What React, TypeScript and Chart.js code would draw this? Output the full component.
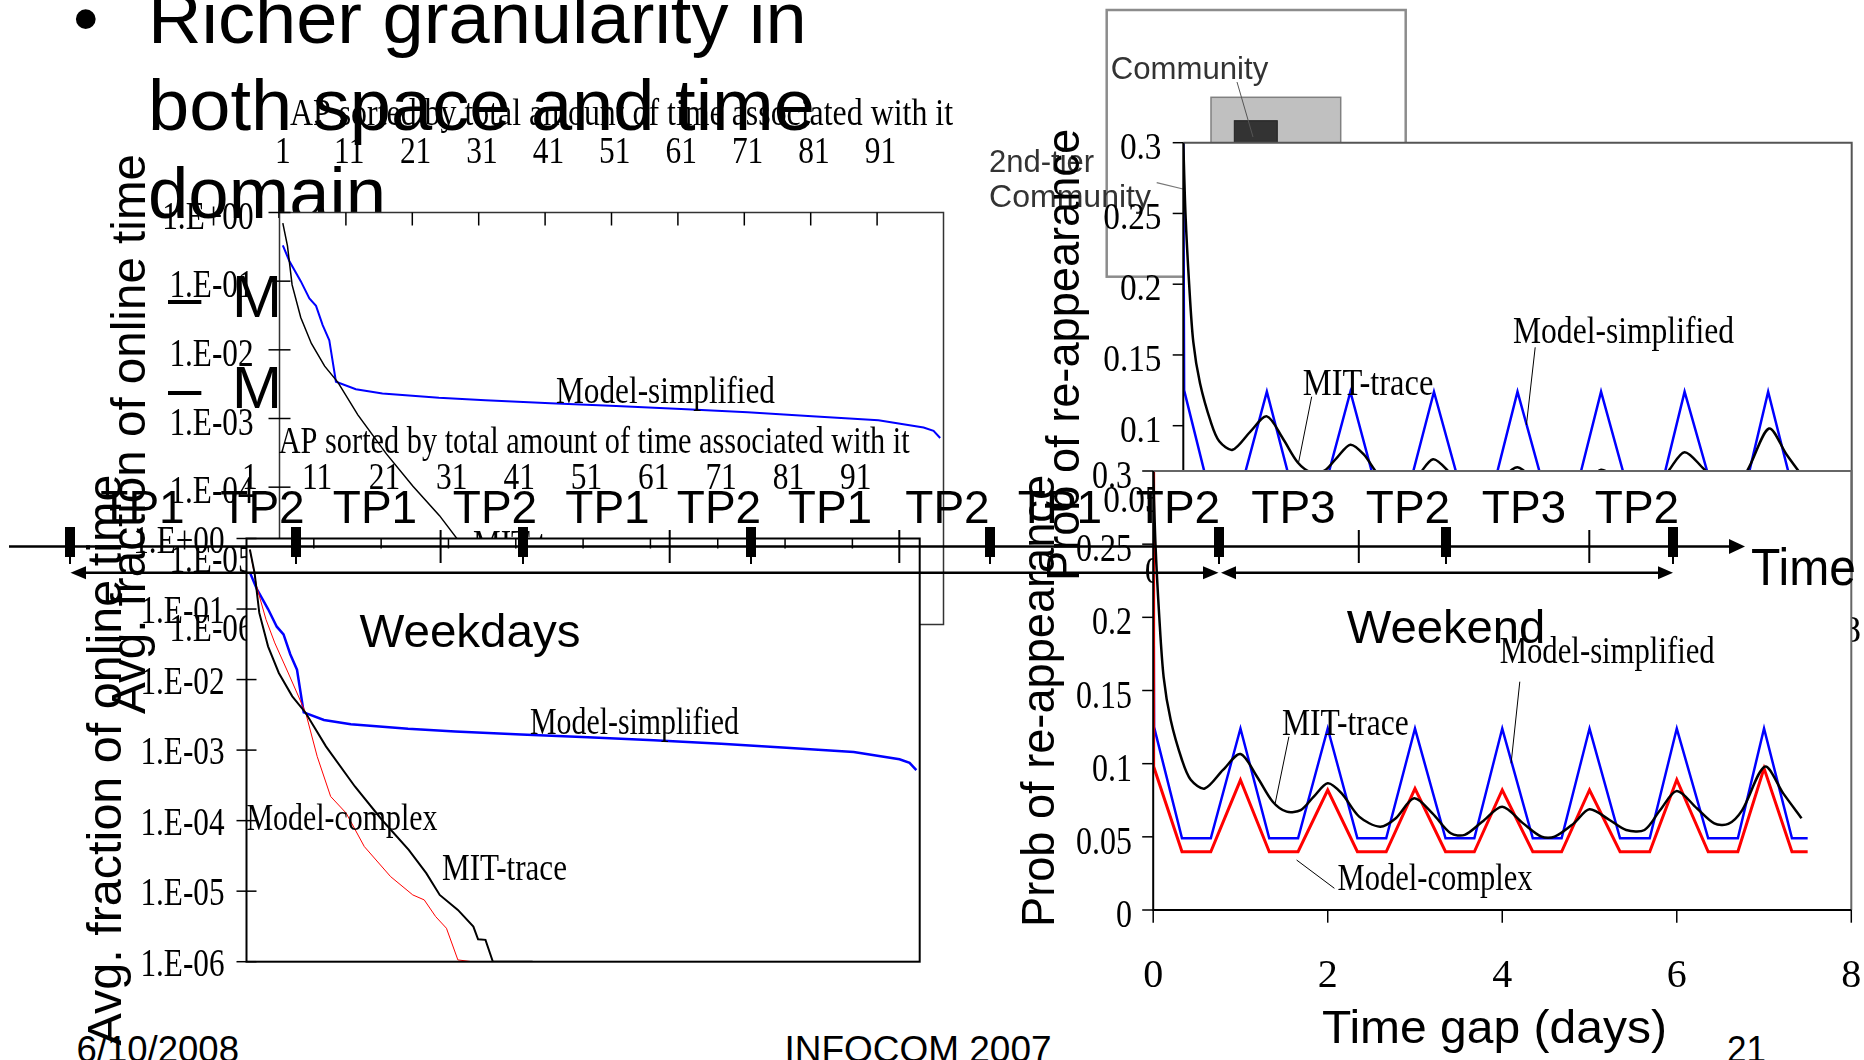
import React, { useEffect, useRef } from "react";
import { Chart, registerables } from "chart.js";

Chart.register(...registerables);

const W = 1864;
const H = 1060;
const SERIF = '"Liberation Serif", "Times New Roman", Times, serif';
const SANS = '"Liberation Sans", Arial, Helvetica, sans-serif';

/* ---------- weekday: avg. fraction of online time per AP (APs ranked 1..100) ---------- */
const mitRank = [1, 1.7, 2.4, 3.7, 5.3, 7.3, 9.3, 12.3, 16.6, 20.6, 24.6, 27.2, 29.2, 31.9, 34.2, 34.9, 36, 37.1, 43];
const mitFraction = [0.698, 0.326, 0.0881, 0.0296, 0.0124, 5.78e-3, 3.36e-3, 1.13e-3, 3.05e-4, 1.03e-4, 3.85e-5, 1.8e-5, 8.85e-6, 5.42e-6, 3.14e-6, 2.08e-6, 2.04e-6, 1.0e-6, 1.0e-6];
const simplifiedRank = [1, 2, 3.7, 5, 6, 7, 8, 9, 12, 16, 24.5, 31.5, 41.3, 51.2, 61, 71, 80.7, 90.7, 97.5, 99, 100];
const simplifiedFraction = [0.331, 0.195, 0.1, 0.0562, 0.0437, 0.0229, 0.0138, 3.43e-3, 2.67e-3, 2.32e-3, 2.0e-3, 1.84e-3, 1.67e-3, 1.52e-3, 1.38e-3, 1.23e-3, 1.08e-3, 9.4e-4, 7.4e-4, 6.6e-4, 5.2e-4];
const complexRank = [1, 2, 3.4, 4.7, 6.7, 8, 9.3, 11, 13, 15.3, 18, 21.9, 25.2, 26.9, 28.6, 30.2, 31.9, 34];
const complexFraction = [0.698, 0.21, 0.0708, 0.0331, 0.0124, 6.46e-3, 3.36e-3, 8.13e-4, 2.2e-4, 1.28e-4, 4.29e-5, 1.61e-5, 8.85e-6, 7.52e-6, 4.36e-6, 2.98e-6, 1.06e-6, 1.0e-6];

/* ---------- weekend: probability of re-appearance vs. time gap (days) ---------- */
const mitGapDays = [0, 0.026, 0.07, 0.12, 0.2, 0.33, 0.43, 0.59, 0.8, 1.0, 1.19, 1.37, 1.53, 1.69, 1.84, 2.0, 2.16, 2.36, 2.6, 2.78, 2.99, 3.2, 3.41, 3.57, 3.77, 4.0, 4.24, 4.45, 4.6, 4.82, 5.0, 5.23, 5.42, 5.63, 5.81, 6.0, 6.23, 6.43, 6.59, 6.75, 7.01, 7.22, 7.43];
const mitReappear = [0.3, 0.25, 0.2, 0.159, 0.13, 0.1025, 0.089, 0.083, 0.0957, 0.1066, 0.0911, 0.074, 0.0672, 0.0683, 0.0775, 0.0866, 0.0797, 0.0638, 0.0569, 0.0627, 0.0763, 0.066, 0.0524, 0.0513, 0.0603, 0.0706, 0.0592, 0.0501, 0.0501, 0.0592, 0.0688, 0.0615, 0.0547, 0.0547, 0.0683, 0.0813, 0.0695, 0.0592, 0.0588, 0.0683, 0.098, 0.0797, 0.0627];
const simplifiedGapDays = [0, 0.01, 0.33, 0.66, 1.0, 1.33, 1.66, 2.0, 2.34, 2.67, 3.0, 3.35, 3.68, 4.0, 4.35, 4.68, 5.0, 5.35, 5.69, 6.0, 6.36, 6.7, 7.0, 7.32, 7.5];
const simplifiedReappear = [0.3, 0.125, 0.049, 0.049, 0.124, 0.049, 0.049, 0.124, 0.049, 0.049, 0.124, 0.049, 0.049, 0.124, 0.049, 0.049, 0.124, 0.049, 0.049, 0.124, 0.049, 0.049, 0.124, 0.049, 0.049];
const complexGapDays = [0, 0.005, 0.33, 0.66, 1.0, 1.33, 1.66, 2.0, 2.34, 2.67, 3.0, 3.35, 3.68, 4.0, 4.35, 4.68, 5.0, 5.35, 5.69, 6.0, 6.36, 6.7, 7.0, 7.32, 7.5];
const complexReappear = [0.3, 0.098, 0.0398, 0.0398, 0.0888, 0.0398, 0.0398, 0.082, 0.0398, 0.0398, 0.083, 0.0398, 0.0398, 0.082, 0.0398, 0.0398, 0.082, 0.0398, 0.0398, 0.089, 0.0398, 0.0398, 0.0968, 0.0398, 0.0398];

/* ---------- tick labels ---------- */
const rankTickLabels = ["1", "11", "21", "31", "41", "51", "61", "71", "81", "91"];
const rankGroupEdges = [10.5, 20.5, 30.5, 40.5, 50.5, 60.5, 70.5, 80.5, 90.5];
const fractionTickLabels = ["1.E+00", "1.E-01", "1.E-02", "1.E-03", "1.E-04", "1.E-05", "1.E-06"];
const probTickLabels = ["0", "0.05", "0.1", "0.15", "0.2", "0.25", "0.3"];
const dayTickLabels = ["0", "2", "4", "6", "8"];

/* ---------- time-period strip ---------- */
const periodLabels = ["TP1", "TP2", "TP1", "TP2", "TP1", "TP2", "TP1", "TP2", "TP1", "TP2", "TP3", "TP2", "TP3", "TP2"];

/* ---------- layout (page pixels) ---------- */
const periodLabelX = [142.5, 262.5, 375, 495, 607.5, 719, 830, 947.5, 1060, 1178, 1293.5, 1408, 1524, 1637];
const dayBoundaryX = [70, 296, 523, 751, 990, 1219, 1446, 1673];
const periodBoundaryX = [440.6, 669.7, 899.3, 1358.8, 1589.3];

type Box = { l: number; t: number; r: number; b: number };
type Series = { xs: number[]; ys: number[]; color: string; width: number; tension: number };
type Note = { text: string; x: number; y: number; w: number; size: number; family: string; align?: CanvasTextAlign; rotate?: boolean };
type Panel = {
  kind: "rank" | "gap";
  box: Box;
  series: Series[];
  yTick: { right: number; dy: number; size: number; sx: number; out: number; inn: number };
  xTick: { baseline: number; size: number; sx: number; len: number };
  notes: Note[];
  leaders: number[][];
  frame: string;
  frameWidth: number;
};

const BLUE = "#0000ff";
const RED = "#ff0000";
const BLACK = "#000000";

const panels: Panel[] = [
  {
    kind: "rank",
    box: { l: 279.5, t: 212.5, r: 943.5, b: 624.5 },
    series: [
      { xs: mitRank, ys: mitFraction, color: BLACK, width: 1.5, tension: 0 },
      { xs: simplifiedRank, ys: simplifiedFraction, color: BLUE, width: 2, tension: 0 },
    ],
    yTick: { right: 253.5, dy: 16, size: 40, sx: 0.78, out: 11, inn: 11 },
    xTick: { baseline: 162.5, size: 37, sx: 0.85, len: 13 },
    notes: [
      { text: "AP sorted by total amount of time associated with it", x: 290, y: 125, w: 663, size: 38, family: SERIF },
      { text: "Avg. fraction of online time", x: 145, y: 434, w: 560, size: 48, family: SANS, align: "center", rotate: true },
      { text: "Model-simplified", x: 556, y: 403, w: 219, size: 38, family: SERIF },
      { text: "MIT-trace", x: 473, y: 556, w: 125, size: 38, family: SERIF },
    ],
    leaders: [],
    frame: "#333333",
    frameWidth: 1.5,
  },
  {
    kind: "gap",
    box: { l: 1183.3, t: 142.7, r: 1851.7, b: 567.2 },
    series: [
      { xs: mitGapDays, ys: mitReappear, color: BLACK, width: 2.5, tension: 0.3 },
      { xs: simplifiedGapDays, ys: simplifiedReappear, color: BLUE, width: 2.5, tension: 0 },
    ],
    yTick: { right: 1161.5, dy: 16, size: 37, sx: 0.9, out: 10.6, inn: 0 },
    xTick: { baseline: 641.7, size: 37, sx: 1, len: 12 },
    notes: [
      { text: "Prob of re-appearance", x: 1079, y: 355, w: 452, size: 46, family: SANS, align: "center", rotate: true },
      { text: "Model-simplified", x: 1513, y: 343.3, w: 221, size: 38, family: SERIF },
      { text: "MIT-trace", x: 1302.8, y: 395, w: 130.6, size: 38, family: SERIF },
    ],
    leaders: [
      [1535.2, 347.3, 1526.4, 425],
      [1311.7, 396.7, 1298.4, 463.3],
    ],
    frame: "#555555",
    frameWidth: 2,
  },
  {
    kind: "rank",
    box: { l: 246.5, t: 538.5, r: 919.7, b: 961.7 },
    series: [
      { xs: mitRank, ys: mitFraction, color: BLACK, width: 2, tension: 0 },
      { xs: complexRank, ys: complexFraction, color: RED, width: 1, tension: 0 },
      { xs: simplifiedRank, ys: simplifiedFraction, color: BLUE, width: 2.5, tension: 0 },
    ],
    yTick: { right: 224.5, dy: 14, size: 40, sx: 0.78, out: 10, inn: 10 },
    xTick: { baseline: 489, size: 37, sx: 0.85, len: 10 },
    notes: [
      { text: "AP sorted by total amount of time associated with it", x: 278.7, y: 453, w: 631, size: 38, family: SERIF },
      { text: "Avg. fraction of online time", x: 121, y: 760, w: 571, size: 48, family: SANS, align: "center", rotate: true },
      { text: "Weekdays", x: 359.5, y: 647.3, w: 221, size: 46, family: SANS },
      { text: "Model-simplified", x: 530, y: 734, w: 209, size: 38, family: SERIF },
      { text: "Model-complex", x: 246.5, y: 830, w: 191, size: 38, family: SERIF },
      { text: "MIT-trace", x: 442, y: 880, w: 125, size: 38, family: SERIF },
    ],
    leaders: [],
    frame: "#000000",
    frameWidth: 2,
  },
  {
    kind: "gap",
    box: { l: 1153.2, t: 471, r: 1851.3, b: 910 },
    series: [
      { xs: mitGapDays, ys: mitReappear, color: BLACK, width: 2.5, tension: 0.3 },
      { xs: complexGapDays, ys: complexReappear, color: RED, width: 3, tension: 0 },
      { xs: simplifiedGapDays, ys: simplifiedReappear, color: BLUE, width: 2.5, tension: 0 },
    ],
    yTick: { right: 1132, dy: 17, size: 40, sx: 0.8, out: 11, inn: 0 },
    xTick: { baseline: 987, size: 40, sx: 1, len: 12.7 },
    notes: [
      { text: "Time gap (days)", x: 1494.4, y: 1043.4, w: 345, size: 47, family: SANS, align: "center" },
      { text: "Prob of re-appearance", x: 1054, y: 701, w: 452, size: 46, family: SANS, align: "center", rotate: true },
      { text: "Weekend", x: 1346.7, y: 643.3, w: 198.6, size: 46, family: SANS },
      { text: "Model-simplified", x: 1499.7, y: 662.7, w: 215, size: 38, family: SERIF },
      { text: "MIT-trace", x: 1282, y: 735, w: 126.7, size: 38, family: SERIF },
      { text: "Model-complex", x: 1337.6, y: 890, w: 195, size: 38, family: SERIF },
    ],
    leaders: [
      [1519.8, 681.7, 1511.1, 763.3],
      [1288.9, 736.7, 1275.2, 803.3],
      [1334.4, 888.3, 1296.6, 860],
    ],
    frame: "#666666",
    frameWidth: 2,
  },
];

function drawScaled(
  ctx: CanvasRenderingContext2D,
  text: string,
  x: number,
  y: number,
  size: number,
  family: string,
  sx: number,
  align: CanvasTextAlign,
  rotate = false
) {
  ctx.save();
  ctx.font = `${size}px ${family}`;
  ctx.fillStyle = "#000";
  ctx.textBaseline = "alphabetic";
  ctx.textAlign = align;
  ctx.translate(x, y);
  if (rotate) ctx.rotate(-Math.PI / 2);
  ctx.scale(sx, 1);
  ctx.fillText(text, 0, 0);
  ctx.restore();
}

function drawNote(ctx: CanvasRenderingContext2D, n: Note) {
  ctx.save();
  ctx.font = `${n.size}px ${n.family}`;
  const natural = ctx.measureText(n.text).width || 1;
  ctx.restore();
  drawScaled(ctx, n.text, n.x, n.y, n.size, n.family, n.w / natural, n.align ?? "left", !!n.rotate);
}

function segment(ctx: CanvasRenderingContext2D, x1: number, y1: number, x2: number, y2: number) {
  ctx.beginPath();
  ctx.moveTo(x1, y1);
  ctx.lineTo(x2, y2);
  ctx.stroke();
}

function panelDecor(panel: Panel) {
  return {
    id: "panelDecor",
    beforeDraw(chart: any) {
      const { ctx, chartArea: a } = chart;
      ctx.save();
      ctx.fillStyle = "#ffffff";
      ctx.fillRect(a.left, a.top, a.right - a.left, a.bottom - a.top);
      ctx.restore();
    },
    afterDraw(chart: any) {
      const ctx: CanvasRenderingContext2D = chart.ctx;
      const a = chart.chartArea;
      const xs = chart.scales.x;
      const ys = chart.scales.y;
      ctx.save();
      ctx.lineCap = "butt";
      ctx.strokeStyle = panel.frame;
      ctx.lineWidth = panel.frameWidth;
      if (panel.kind === "rank") {
        ctx.strokeRect(a.left, a.top, a.right - a.left, a.bottom - a.top);
      } else {
        ctx.beginPath();
        ctx.moveTo(a.left, a.top);
        ctx.lineTo(a.right, a.top);
        ctx.lineTo(a.right, a.bottom);
        ctx.stroke();
        ctx.strokeStyle = "#000";
        ctx.beginPath();
        ctx.moveTo(a.left, a.top);
        ctx.lineTo(a.left, a.bottom);
        ctx.lineTo(a.right, a.bottom);
        ctx.stroke();
      }

      const yt = panel.yTick;
      const xt = panel.xTick;
      ctx.strokeStyle = "#000";
      ctx.lineWidth = 1.5;
      const yLabels = panel.kind === "rank" ? fractionTickLabels : probTickLabels;
      for (const lab of yLabels) {
        const py = ys.getPixelForValue(Number(lab));
        segment(ctx, a.left - yt.out, py, a.left + yt.inn, py);
        drawScaled(ctx, lab, yt.right, py + yt.dy, yt.size, SERIF, yt.sx, "right");
      }

      if (panel.kind === "rank") {
        for (const edge of rankGroupEdges) {
          const px = xs.getPixelForValue(edge);
          segment(ctx, px, a.top, px, a.top + xt.len);
        }
        for (const lab of rankTickLabels) {
          const px = xs.getPixelForValue(Number(lab));
          drawScaled(ctx, lab, px, xt.baseline, xt.size, SERIF, xt.sx, "center");
        }
      } else {
        for (const lab of dayTickLabels) {
          const px = xs.getPixelForValue(Number(lab));
          segment(ctx, px, a.bottom, px, a.bottom + xt.len);
          drawScaled(ctx, lab, px, xt.baseline, xt.size, SERIF, xt.sx, "center");
        }
      }

      ctx.lineWidth = 1;
      for (const [x1, y1, x2, y2] of panel.leaders) segment(ctx, x1, y1, x2, y2);
      for (const n of panel.notes) drawNote(ctx, n);
      ctx.restore();
    },
  };
}

function PanelCanvas({ panel }: { panel: Panel }) {
  const ref = useRef<HTMLCanvasElement | null>(null);
  useEffect(() => {
    const canvas = ref.current;
    if (!canvas) return;
    const isRank = panel.kind === "rank";
    const chart = new Chart(canvas, {
      type: "line",
      data: {
        datasets: panel.series.map((s) => ({
          data: s.xs.map((x, i) => ({ x, y: s.ys[i] })),
          borderColor: s.color,
          backgroundColor: s.color,
          borderWidth: s.width,
          pointRadius: 0,
          tension: s.tension,
          fill: false,
        })),
      },
      options: {
        responsive: false,
        animation: false,
        devicePixelRatio: 1,
        events: [],
        layout: {
          padding: { left: panel.box.l, top: panel.box.t, right: W - panel.box.r, bottom: H - panel.box.b },
        },
        scales: {
          x: isRank
            ? { type: "linear", min: 0.5, max: 100.5, display: false }
            : { type: "linear", min: 0, max: 8, display: false },
          y: isRank
            ? { type: "logarithmic", min: 1e-6, max: 1, display: false }
            : { type: "linear", min: 0, max: 0.3, display: false },
        },
        plugins: { legend: { display: false }, tooltip: { enabled: false } },
      } as any,
      plugins: [panelDecor(panel)],
    });
    return () => chart.destroy();
  }, [panel]);
  return (
    <canvas
      ref={ref}
      width={W}
      height={H}
      style={{ position: "absolute", left: 0, top: 0, width: W, height: H }}
    />
  );
}

const layer: React.CSSProperties = { position: "absolute", left: 0, top: 0 };

function SlideText() {
  return (
    <svg width={W} height={H} style={layer}>
      <g fontFamily={SANS} fill="#000">
        <text x={73} y={42.9} fontSize={73}>•</text>
        <text x={148} y={42.9} fontSize={73} textLength={658.7} lengthAdjust="spacingAndGlyphs">Richer granularity in</text>
        <text x={148} y={130.4} fontSize={73} textLength={667} lengthAdjust="spacingAndGlyphs">both space and time</text>
        <text x={148} y={218} fontSize={73} textLength={238} lengthAdjust="spacingAndGlyphs">domain</text>
        <text x={168} y={316.8} fontSize={60}>–</text>
        <text x={232} y={316.8} fontSize={60}>M</text>
        <text x={168} y={408} fontSize={60}>–</text>
        <text x={232} y={408} fontSize={60}>M</text>
        <text x={76.5} y={1061.5} fontSize={36} textLength={162.5} lengthAdjust="spacingAndGlyphs">6/10/2008</text>
        <text x={784.5} y={1061.5} fontSize={36} textLength={267} lengthAdjust="spacingAndGlyphs">INFOCOM 2007</text>
        <text x={1727} y={1061.5} fontSize={36} textLength={39} lengthAdjust="spacingAndGlyphs">21</text>
      </g>
    </svg>
  );
}

function CommunitySketch() {
  return (
    <svg width={W} height={H} style={{ ...layer, filter: "blur(0.6px)" }}>
      <rect x={1106.7} y={10} width={299} height={266.7} fill="none" stroke="#8c8c8c" strokeWidth={2.5} />
      <rect x={1211} y={97.3} width={129.7} height={110} fill="#c0c0c0" stroke="#808080" strokeWidth={1.5} />
      <rect x={1234.3} y={120.7} width={43} height={60} fill="#333333" stroke="#222" strokeWidth={1} />
      <line x1={1237} y1={82} x2={1253} y2={137} stroke="#555" strokeWidth={1} />
      <line x1={1156.7} y1={182.7} x2={1183} y2={189} stroke="#777" strokeWidth={1.2} />
      <g fontFamily={SANS} fill="#333" fontSize={31}>
        <text x={1110.7} y={79} textLength={157.6} lengthAdjust="spacingAndGlyphs">Community</text>
        <text x={989} y={172}>2nd-tier</text>
        <text x={989} y={207} textLength={162} lengthAdjust="spacingAndGlyphs">Community</text>
      </g>
    </svg>
  );
}

function PeriodStrip() {
  const axisY = 546.5;
  const spanY = 572.7;
  return (
    <svg width={W} height={H} style={layer}>
      <g stroke="#000" fill="#000">
        <line x1={9} y1={axisY} x2={1732} y2={axisY} strokeWidth={2.5} />
        <polygon points={`1745,${axisY} 1729,${axisY - 7.5} 1729,${axisY + 7.5}`} stroke="none" />
        {dayBoundaryX.map((x) => (
          <g key={`d${x}`}>
            <rect x={x - 5} y={527} width={10} height={30} stroke="none" />
            <line x1={x} y1={557} x2={x} y2={564} strokeWidth={2} />
          </g>
        ))}
        {periodBoundaryX.map((x) => (
          <line key={`p${x}`} x1={x} y1={530} x2={x} y2={563} strokeWidth={2} />
        ))}
        <line x1={80} y1={spanY} x2={1208} y2={spanY} strokeWidth={2.5} />
        <polygon points={`70.5,${spanY} 86,${spanY - 6.5} 86,${spanY + 6.5}`} stroke="none" />
        <polygon points={`1218.5,${spanY} 1203,${spanY - 6.5} 1203,${spanY + 6.5}`} stroke="none" />
        <line x1={1231} y1={spanY} x2={1663} y2={spanY} strokeWidth={2.5} />
        <polygon points={`1221,${spanY} 1236,${spanY - 6.5} 1236,${spanY + 6.5}`} stroke="none" />
        <polygon points={`1673,${spanY} 1658,${spanY - 6.5} 1658,${spanY + 6.5}`} stroke="none" />
      </g>
      <g fontFamily={SANS} fill="#000" fontSize={46} textAnchor="middle">
        {periodLabels.map((t, i) => (
          <text key={i} x={periodLabelX[i]} y={523}>
            {t}
          </text>
        ))}
      </g>
      <text x={1751} y={585} fontFamily={SANS} fontSize={52} textLength={105} lengthAdjust="spacingAndGlyphs">
        Time
      </text>
    </svg>
  );
}

export default function App() {
  return (
    <div
      style={{
        position: "fixed",
        left: 0,
        top: 0,
        width: W,
        height: H,
        overflow: "hidden",
        background: "#ffffff",
      }}
    >
      <SlideText />
      <CommunitySketch />
      {panels.map((p, i) => (
        <PanelCanvas key={i} panel={p} />
      ))}
      <PeriodStrip />
    </div>
  );
}
